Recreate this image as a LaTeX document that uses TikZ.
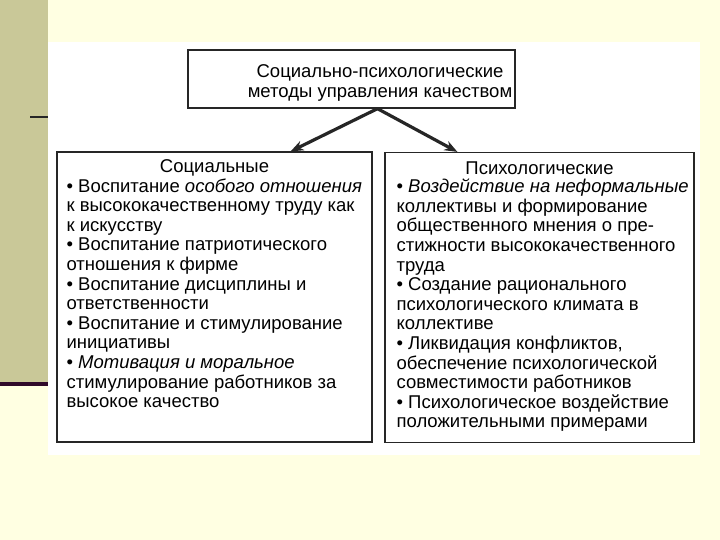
\documentclass[tikz,border=0pt]{standalone}
\usepackage{fontspec}
\setmainfont{Liberation Sans}
\usetikzlibrary{arrows.meta,positioning}

\definecolor{slidebg}{RGB}{255,255,226}
\definecolor{sidebar}{RGB}{201,200,152}
\definecolor{barrule}{RGB}{48,10,42}

\begin{document}
\begin{tikzpicture}[
  x=1pt, y=-1pt,
  font=\fontsize{18.5}{19.6}\selectfont,
  >={Stealth[length=13pt,width=10pt]},
  headbox/.style={
    draw=black!85,
    line width=1.3pt,
    fill=white,
    minimum width=327pt,
    minimum height=58pt,
    inner sep=0pt
  },
  panel/.style={
    draw=black!85,
    line width=1.2pt,
    fill=white,
    minimum height=290pt,
    inner sep=0pt
  },
  boxtitle/.style={inner sep=0pt, align=center},
  listtext/.style={inner sep=0pt, align=left},
  arrow/.style={->, line width=3.2pt, draw=black!85}
]

% slide background
\fill[slidebg] (0,0) rectangle (720,540);
\fill[sidebar] (0,0) rectangle (48,382);
\fill[barrule] (0,382) rectangle (48,386);
\draw[line width=2pt, black!85] (30,117) -- (48,117);
\fill[white] (48,42) rectangle (700,455);

% top box
\node[headbox] (head) at (351.5,79) {};
\node[boxtitle] (headtitle) at (380,83)
  {Социально-психологические\\методы управления качеством};

% two panels
\node[panel, minimum width=315pt] (soc) at (214.5,297) {};
\node[panel, minimum width=309pt] (psy) at (539.5,297.5) {};

\node[boxtitle, below=8pt of soc.north] (soctitle) {Социальные};
\node[boxtitle, below=10pt of psy.north] (psytitle) {Психологические};

\node[listtext, below right=27pt and 10pt of soc.north west] (soclist)
  {•~Воспитание {\itshape особого отношения}\\
   к высококачественному труду как\\
   к искусству\\
   •~Воспитание патриотического\\
   отношения к фирме\\
   •~Воспитание дисциплины и\\
   ответственности\\
   •~Воспитание и стимулирование\\
   инициативы\\
   •~{\itshape Мотивация и моральное}\\
   стимулирование работников за\\
   высокое качество};

\node[listtext, below right=27pt and 12pt of psy.north west] (psylist)
  {•~{\itshape Воздействие на неформальные}\\
   коллективы и формирование\\
   общественного мнения о пре-\\
   стижности высококачественного\\
   труда\\
   •~Создание рационального\\
   психологического климата в\\
   коллективе\\
   •~Ликвидация конфликтов,\\
   обеспечение психологической\\
   совместимости работников\\
   •~Психологическое воздействие\\
   положительными примерами};

% arrows
\coordinate (fork) at ([xshift=26pt]head.south);
\draw[arrow] (fork) -- ([xshift=-82pt]soc.north east);
\draw[arrow] (fork) -- ([xshift=73pt]psy.north west);

\end{tikzpicture}
\end{document}
